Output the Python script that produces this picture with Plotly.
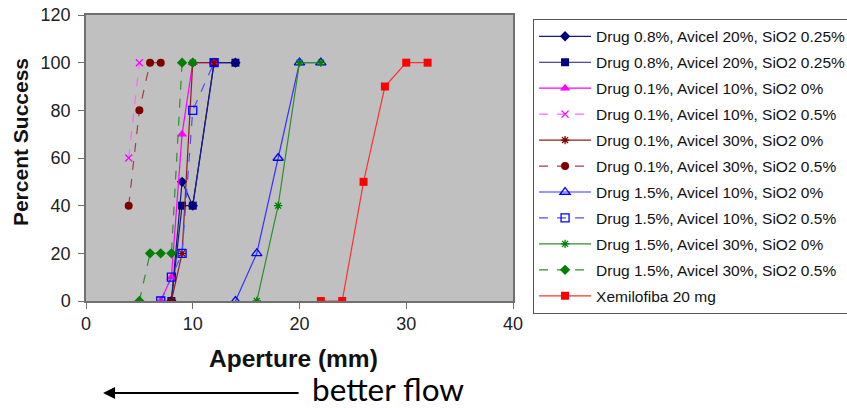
import plotly.graph_objects as go

# Aperture (mm) vs percent success for each formulation
names = [
    "Drug 0.8%, Avicel 20%, SiO2 0.25%",
    "Drug 0.8%, Avicel 20%, SiO2 0.25%",
    "Drug 0.1%, Avicel 10%, SiO2 0%",
    "Drug 0.1%, Avicel 10%, SiO2 0.5%",
    "Drug 0.1%, Avicel 30%, SiO2 0%",
    "Drug 0.1%, Avicel 30%, SiO2 0.5%",
    "Drug 1.5%, Avicel 10%, SiO2 0%",
    "Drug 1.5%, Avicel 10%, SiO2 0.5%",
    "Drug 1.5%, Avicel 30%, SiO2 0%",
    "Drug 1.5%, Avicel 30%, SiO2 0.5%",
    "Xemilofiba 20 mg",
]

x_d08_a20_a = [8, 9, 10, 12, 14]
y_d08_a20_a = [0, 50, 40, 100, 100]
x_d08_a20_b = [8, 9, 10, 12, 14]
y_d08_a20_b = [0, 40, 40, 100, 100]
x_d01_a10_s0 = [7, 8, 9, 10, 12]
y_d01_a10_s0 = [0, 10, 70, 100, 100]
x_d01_a10_s05 = [4, 5]
y_d01_a10_s05 = [60, 100]
x_d01_a30_s0 = [8, 9, 10, 12]
y_d01_a30_s0 = [0, 20, 100, 100]
x_d01_a30_s05 = [4, 5, 6, 7]
y_d01_a30_s05 = [40, 80, 100, 100]
x_d15_a10_s0 = [14, 16, 18, 20, 22]
y_d15_a10_s0 = [0, 20, 60, 100, 100]
x_d15_a10_s05 = [7, 8, 9, 10, 12]
y_d15_a10_s05 = [0, 10, 20, 80, 100]
x_d15_a30_s0 = [16, 18, 20, 22]
y_d15_a30_s0 = [0, 40, 100, 100]
x_d15_a30_s05 = [5, 6, 7, 8, 9, 10]
y_d15_a30_s05 = [0, 20, 20, 20, 100, 100]
x_xemilofiba = [22, 24, 26, 28, 30, 32]
y_xemilofiba = [0, 0, 50, 90, 100, 100]

xs = [x_d08_a20_a, x_d08_a20_b, x_d01_a10_s0, x_d01_a10_s05, x_d01_a30_s0,
      x_d01_a30_s05, x_d15_a10_s0, x_d15_a10_s05, x_d15_a30_s0, x_d15_a30_s05,
      x_xemilofiba]
ys = [y_d08_a20_a, y_d08_a20_b, y_d01_a10_s0, y_d01_a10_s05, y_d01_a30_s0,
      y_d01_a30_s05, y_d15_a10_s0, y_d15_a10_s05, y_d15_a30_s0, y_d15_a30_s05,
      y_xemilofiba]

styles = [
    # (line colour, marker colour, dash, symbol, size)
    ("#1a1a80", "#000080", "solid", "diamond", 8),
    ("#1a1a80", "#000080", "solid", "square", 8),
    ("#ff00ff", "#ff00ff", "solid", "triangle-up", 9),
    ("#ff66ff", "#ff00ff", "dash", "x-thin-open", 7),
    ("#8b2020", "#800000", "solid", "asterisk-open", 7),
    ("#a04040", "#800000", "dash", "circle", 8),
    ("#3333ff", "#0000ff", "solid", "triangle-up-open", 9),
    ("#4d4dff", "#0000ff", "dash", "square-open", 8),
    ("#2f8f2f", "#008000", "solid", "asterisk-open", 7),
    ("#2f8f2f", "#008000", "dash", "diamond", 8),
    ("#ff3030", "#ff0000", "solid", "square", 8),
]

fig = go.Figure()
for i, (name, x, y, st) in enumerate(zip(names, xs, ys, styles)):
    lc, mc, dash, sym, size = st
    open_sym = sym.endswith("open")
    fig.add_trace(go.Scatter(
        x=x, y=y, name=name, mode="lines+markers",
        legendgroup=f"g{i}",
        line=dict(color=lc, width=1.2, dash=dash),
        marker=dict(symbol=sym, size=size, color=mc,
                    line=dict(color=mc, width=1.3 if open_sym else 0)),
    ))

fig.update_layout(
    width=847, height=408,
    margin=dict(l=86, r=334, t=15, b=107, autoexpand=False),
    paper_bgcolor="white",
    plot_bgcolor="#c0c0c0",
    font=dict(family="Arial", color="#222222"),
    showlegend=True,
    legend=dict(
        x=1.047, y=0.987, xanchor="left", yanchor="top",
        bgcolor="white", bordercolor="#555555", borderwidth=1,
        font=dict(family="Arial", size=15.5, color="#111111"),
        tracegroupgap=2.8,
        itemwidth=52,
        maxheight=400,
    ),
    xaxis=dict(
        range=[0, 40], dtick=10, showgrid=False, zeroline=False,
        showline=True, linecolor="#707070", linewidth=1.5, mirror=True,
        ticks="outside", ticklen=6, tickcolor="#707070",
        tickfont=dict(family="Arial", size=18),
    ),
    yaxis=dict(
        range=[0, 120], dtick=20, showgrid=False, zeroline=False,
        showline=True, linecolor="#707070", linewidth=1.5, mirror=True,
        ticks="outside", ticklen=6, tickcolor="#707070",
        ticklabelstandoff=4,
        tickfont=dict(family="Arial", size=18),
    ),
)

# axis titles
fig.add_annotation(
    xref="paper", yref="paper", x=0.486, y=-0.2,
    xanchor="center", yanchor="middle", showarrow=False,
    text="<b>Aperture (mm)</b>",
    font=dict(family="Arial", size=24.5, color="#111111"),
)
fig.add_annotation(
    xref="paper", yref="paper", x=-0.152, y=0.556,
    xanchor="center", yanchor="middle", showarrow=False, textangle=-90,
    text="<b>Percent Success</b>",
    font=dict(family="Arial", size=21, color="#111111"),
)

# flow-direction note under the axis
fig.add_annotation(
    xref="paper", yref="paper", x=0.04, y=-0.322,
    ax=197, ay=0, text="", showarrow=True,
    arrowhead=2, arrowsize=1.2, arrowwidth=2, arrowcolor="black",
)
fig.add_annotation(
    xref="paper", yref="paper", x=0.525, y=-0.306,
    xanchor="left", yanchor="middle", showarrow=False,
    text="better flow", font=dict(family="Lato, sans-serif", size=31.5, color="black"),
)

fig.write_html("out.html")
